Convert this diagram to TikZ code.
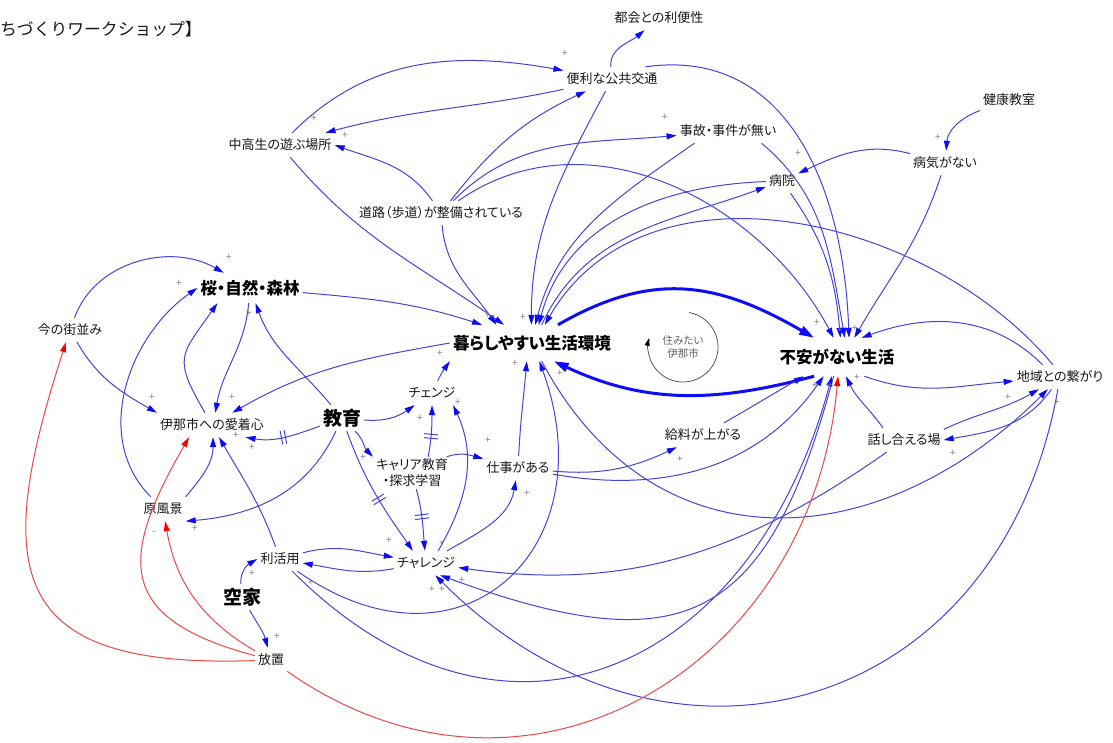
\documentclass[tikz,border=0pt]{standalone}
\usepackage{fontspec}
\setmainfont{Noto Sans CJK JP}[RawFeature=+palt]
\newfontfamily\titlefont{Noto Sans CJK JP}
\usetikzlibrary{arrows.meta,decorations.markings}
\definecolor{linea}{RGB}{68,68,220}
\definecolor{punta}{RGB}{12,12,245}
\definecolor{rosso}{RGB}{236,70,70}
\definecolor{testo}{RGB}{24,24,24}
\tikzset{
>={Triangle[length=10pt,width=6pt]},
var node/.style={inner xsep=3pt,inner ysep=2pt,minimum height=24pt,text=testo,font=\fontsize{13}{16}\selectfont},
key node/.style={inner xsep=3pt,inner ysep=2pt,text=black,font=\fontsize{16.5}{19}\selectfont\bfseries},
freccia/.style={-{Triangle[length=10pt,width=6pt,color=punta]},color=linea,line width=1pt},
freccia rossa/.style={-{Triangle[length=10pt,width=6pt,color=red]},color=rosso,line width=1pt},
freccia spessa/.style={-{Triangle[length=15pt,width=9pt,color=punta]},color=punta,line width=3pt},
segno/.style={inner sep=0pt,text=gray,font=\fontsize{10}{10}\selectfont},
ritardo/.style={postaction={decorate,decoration={markings,mark=at position #1 with {\draw[arrows=-,linea,line width=1pt] (-2pt,-7pt) -- (-2pt,7pt) (2pt,-7pt) -- (2pt,7pt);}}}}}

\begin{document}
\begin{tikzpicture}[x=1pt,y=1pt,inner sep=1pt]

\fill[white] (0,0) rectangle (1113,-742);
\path[use as bounding box,clip] (0,0) rectangle (1113,-742);

\node[anchor=west,inner sep=0pt,text=testo,font=\titlefont\fontsize{16.8}{19}\selectfont] (titolo) at (0,-29) {ちづくりワークショップ】};

\node[var node] (tokai) at (659,-18) {都会との利便性};
\node[var node] (kotsu) at (612,-79) {便利な公共交通};
\node[var node] (asobiba) at (280,-145) {中高生の遊ぶ場所};
\node[var node] (jiko) at (728,-131) {事故・事件が無い};
\node[var node] (kenko) at (1009,-100) {健康教室};
\node[var node] (byoki) at (945,-163) {病気がない};
\node[var node] (byoin) at (782,-181) {病院};
\node[var node] (doro) at (441,-213) {道路（歩道）が整備されている};
\node[key node,minimum height=30pt] (sakura) at (250,-288) {桜・自然・森林};
\node[var node] (machinami) at (70,-330) {今の街並み};
\node[key node,minimum height=36pt] (kurashi) at (532,-343) {暮らしやすい生活環境};
\node[key node,minimum height=38pt] (fuan) at (837,-357) {不安がない生活};
\node[var node] (chiiki) at (1060,-377) {地域との繋がり};
\node[var node] (aichaku) at (212,-425) {伊那市への愛着心};
\node[key node,minimum height=26pt,font=\fontsize{19}{21}\selectfont\bfseries] (kyoiku) at (342,-418) {教育};
\node[var node] (change) at (432,-393) {チェンジ};
\node[var node,align=center] (career) at (412,-473) {キャリア教育\\・探求学習};
\node[var node] (shigoto) at (518,-468) {仕事がある};
\node[var node] (kyuryo) at (703,-435) {給料が上がる};
\node[var node] (hanashi) at (904,-440) {話し合える場};
\node[var node] (genfukei) at (163,-509) {原風景};
\node[var node] (challenge) at (426,-563) {チャレンジ};
\node[var node] (rikatsuyo) at (280,-559) {利活用};
\node[key node,minimum height=26pt,font=\fontsize{19}{21}\selectfont\bfseries] (akiya) at (242,-597) {空家};
\node[var node] (hochi) at (271,-660) {放置};

\node[align=center,text=gray!75!black,font=\fontsize{10.5}{12.5}\selectfont] (ciclo) at (683,-347) {住みたい\\伊那市};
\draw[gray!70!black,line width=0.8pt,-{Triangle[length=8pt,width=5pt,color=black]}] (ciclo.center) ++(80:35) arc[start angle=80,end angle=-195,radius=35];

\path[freccia] (asobiba) edge[out=45,in=170] (kotsu);
\path[freccia] (kotsu) edge[out=192,in=15] (asobiba);
\path[freccia] (kotsu) edge[out=95,in=-140] (tokai);
\path[freccia] (kotsu) edge[out=-118,in=90] (kurashi.92);
\path[freccia] (kotsu.20) edge[out=8,in=92,looseness=1.1] (fuan.58);

\path[freccia] (doro) edge[out=125,in=-20] (asobiba.east);
\path[freccia] (doro) edge[out=-85,in=125] (kurashi.153);
\path[freccia] (doro) edge[out=52,in=-155] (kotsu);
\path[freccia] (doro) edge[out=45,in=-175] (jiko);
\path[freccia] (doro) edge[out=35,in=118] (fuan.100);

\path[freccia] (asobiba) edge[out=-50,in=145] (kurashi.147);
\path[freccia] (sakura) edge[out=-5,in=162] (kurashi.160);
\path[freccia] (jiko.-160) edge[out=-145,in=75] (kurashi.80);
\path[freccia] (byoin) edge[out=182,in=75] (kurashi.70);
\path[freccia] (kurashi.62) edge[out=65,in=-160] (byoin);
\path[freccia] (chiiki.120) edge[out=130,in=60] (kurashi.55);

\path[freccia] (jiko.-20) edge[out=-40,in=100] (fuan.68);
\path[freccia] (byoin) edge[out=-55,in=95] (fuan.80);
\path[freccia] (byoki) edge[out=-108,in=60] (fuan.48);
\path[freccia] (chiiki.145) edge[out=135,in=20] (fuan.38);
\path[freccia] (byoki) edge[out=165,in=25] (byoin);
\path[freccia] (kenko) edge[out=-160,in=85] (byoki);

\path[freccia spessa] (kurashi.35) edge[out=30,in=150,looseness=1.1] (fuan.140);
\path[freccia spessa] (fuan.-140) edge[out=-165,in=-25] (kurashi.-40);

\path[freccia] (fuan.-35) edge[out=-20,in=-175] (chiiki);
\path[freccia] (hanashi.150) edge[out=125,in=-65] (fuan);
\path[freccia] (hanashi.15) edge[out=25,in=-150] (chiiki);
\path[freccia] (chiiki) edge[out=-125,in=10] (hanashi.east);
\path[freccia] (kurashi.-62) edge[out=-62,in=-135,looseness=1.2] (chiiki);
\path[freccia] (hanashi) edge[out=-145,in=-8] (challenge);
\path[freccia] (chiiki) edge[out=-100,in=-45,looseness=1.3] (challenge.-53);
\path[freccia] (fuan.-100) edge[out=-105,in=-20,looseness=1.5] (challenge.-41);

\path[freccia] (kyuryo) edge[out=30,in=-150] (fuan);
\path[freccia] (shigoto) edge[out=-10,in=-125] (fuan);
\path[freccia] (shigoto) edge[out=-5,in=-155] (kyuryo);
\path[freccia] (shigoto) edge[out=87,in=-95] (kurashi.-106);
\path[freccia] (rikatsuyo) edge[out=-45,in=-105,looseness=1.35] (fuan);
\path[freccia] (rikatsuyo) edge[out=-35,in=-70,looseness=1.6] (kurashi.-68);

\path[freccia] (change) edge[out=65,in=-125] (kurashi.south west);
\path[freccia] (kurashi.west) edge[out=190,in=30] (aichaku.31);
\path[freccia] (kyoiku) edge[out=-5,in=-145] (change);
\path[freccia] (kyoiku) edge[out=-45,in=135] (career.north west);
\path[freccia] (kyoiku) edge[out=-70,in=125,ritardo=0.55] (challenge.137);
\path[freccia] (kyoiku) edge[out=-160,in=-10,ritardo=0.5] (aichaku.-20);
\path[freccia] (kyoiku) edge[out=130,in=-70] (sakura);
\path[freccia] (kyoiku) edge[out=-115,in=5] (genfukei.south east);

\path[freccia] (career.45) edge[out=80,in=-90,ritardo=0.4] (change);
\path[freccia] (career) edge[out=-75,in=95,ritardo=0.45] (challenge);
\path[freccia] (career.25) edge[out=20,in=165] (shigoto);
\path[freccia] (challenge.45) edge[out=60,in=-65] (change.-30);
\path[freccia] (challenge) edge[out=30,in=-100] (shigoto);
\path[freccia] (rikatsuyo) edge[out=15,in=170] (challenge);
\path[freccia] (challenge) edge[out=-170,in=-10] (rikatsuyo);

\path[freccia] (machinami) edge[out=70,in=150] (sakura);
\path[freccia] (machinami) edge[out=-60,in=150] (aichaku.north west);
\path[freccia] (genfukei) edge[out=135,in=-145] (sakura.west);
\path[freccia] (aichaku) edge[out=120,in=-125,looseness=1.5] (sakura.-155);
\path[freccia] (sakura) edge[out=-95,in=80] (aichaku.75);
\path[freccia] (genfukei.north east) edge[out=50,in=-90] (aichaku.-85);
\path[freccia] (rikatsuyo) edge[out=110,in=-60] (aichaku.-60);

\path[freccia] (akiya) edge[out=95,in=-150] (rikatsuyo.west);
\path[freccia] (akiya) edge[out=-60,in=105] (hochi);

\path[freccia rossa] (hochi) edge[out=150,in=-80] (genfukei);
\path[freccia rossa] (hochi) edge[out=165,in=-120,looseness=1.6] (aichaku.-152);
\path[freccia rossa] (hochi) edge[out=182,in=-108,looseness=1.7] (machinami);
\path[freccia rossa] (hochi) edge[out=-35,in=-95,looseness=1.2] (fuan.-87);

\foreach \x/\y [count=\i] in {565/53,345/135,314/118,665/117,798/153,938/137,488/315,523/317,817/322,840/330,855/328,857/377,815/385,830/385,1008/397,1057/402,953/453,680/459,488/440,527/493,420/418,458/402,440/353,515/363,560/373,389/540,442/543,462/580,432/589,442/589,252/573,311/582,277/636,195/528,152/397,232/397,236/435,252/447,229/257,179/283,249/313,363/457}
  \node[segno] (s\i) at (\x,-\y) {+};
\node[segno] (m1) at (154,-533) {-};
\node[segno] (m2) at (64,-347) {-};

\end{tikzpicture}
\end{document}
